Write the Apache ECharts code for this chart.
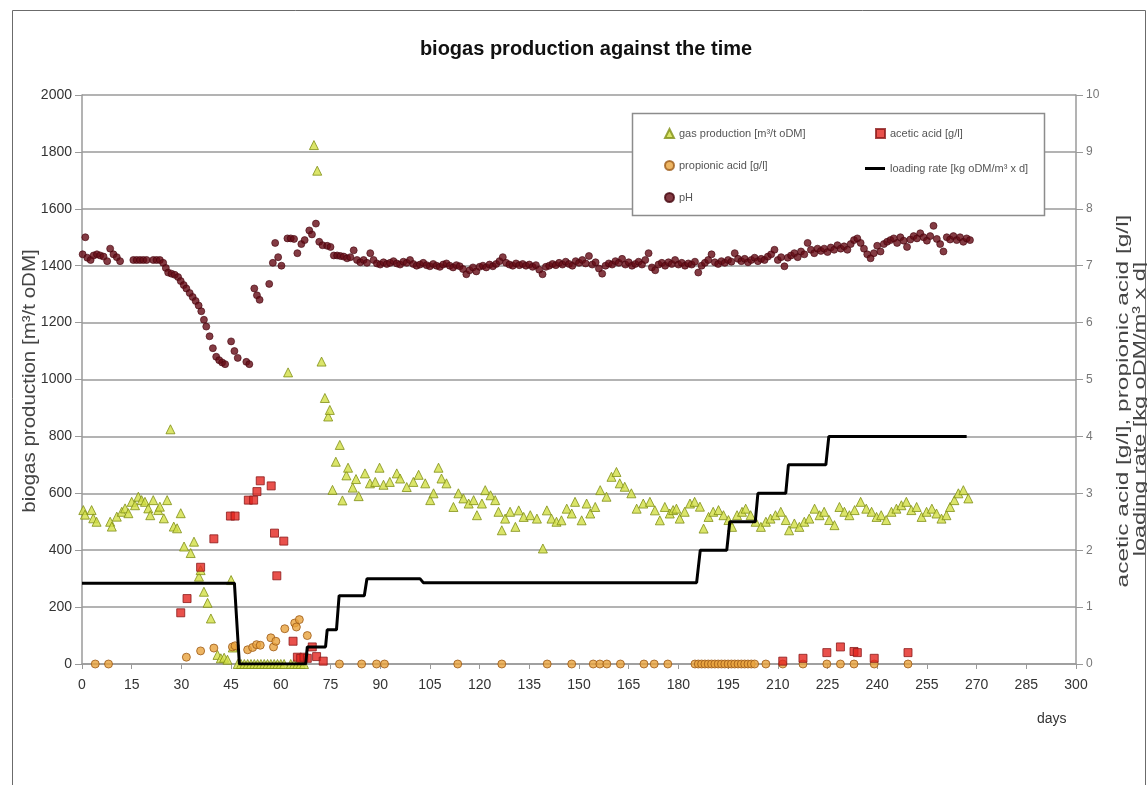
<!DOCTYPE html>
<html>
<head>
<meta charset="utf-8">
<title>biogas production against the time</title>
<script src="https://cdn.jsdelivr.net/npm/echarts@6/dist/echarts.min.js"></script>
<style>
  html, body { margin: 0; padding: 0; background: #fff; }
  #chart { width: 1147px; height: 785px; }
</style>
</head>
<body>
<div id="chart"></div>
<script>
// Day ticks and axis ranges
const dayTicks = { min: 0, max: 300, step: 15 };
const gasTicks = { min: 0, max: 2000, step: 200 };
const acidTicks = { min: 0, max: 10, step: 1 };

// Specific gas production [m³/t oDM] per sampling day
const gasData = [
  [0.4,541],[0.9,525],[2.9,541],[3.4,512],[4.4,500],[8.5,500],[9,483],[10.5,518],[12,535],[13,547],
  [14,530],[15,570],[16,558],[17,588],[18,576],[19,570],[20,547],[20.6,523],[21.5,576],[23,541],
  [23.5,553],[24.7,512],[25.7,576],[26.7,825],[27.7,483],[28.7,477],[29.8,530],[30.8,413],[32.8,390],[33.8,430],
  [35.3,307],[35.8,330],[36.8,254],[37.9,215],[38.9,160],[40.9,32],[41.9,20],[42.9,22],[43.9,15],[45,295],
  [45.5,58],[47,0],[48,0],[49,0],[50,0],[51,0],[52,0],[53,0],[54,0],[55,0],[56,0],[57,0],[58,0],[59,0],
  [60,0],[61,0],[62.2,1025],[63,0],[64,0],[65,0],[66,0],[67,0],
  [70,1824],[71,1734],[72.3,1063],[73.3,935],[74.3,870],[74.8,893],
  [75.6,612],[76.6,711],[77.8,770],[78.6,575],[79.8,663],[80.3,690],[81.7,620],[82.7,650],[83.5,590],[85.4,670],
  [86.9,635],[88.5,640],[89.8,690],[91,630],[92.9,640],[95,670],[96,652],[98,622],[100,640],[101.6,665],
  [103.6,635],[105.1,576],[106.1,600],[107.6,690],[108.5,652],[110,635],[112.1,552],[113.6,600],[115.1,582],[116.7,564],
  [118.2,576],[119.2,523],[120.7,564],[121.7,611],[123.3,593],[124.7,576],[125.7,535],[126.7,470],[127.7,511],[129.2,535],
  [130.8,482],[131.8,540],[133.3,517],[135.3,523],[137.3,511],[139.1,406],[140.3,540],[141.7,511],[143.2,500],[144.7,505],
  [146.3,546],[147.8,529],[148.8,570],[150.8,505],[152.3,564],[153.4,529],[154.9,552],[156.4,611],[158.3,588],[159.8,658],
  [161.3,675],[162.3,635],[163.8,623],[165.8,600],[167.4,546],[169.4,564],[171.4,570],[172.9,540],[174.4,505],[175.9,552],
  [177.4,529],[178.4,541],[179.4,546],[180.4,511],[181.9,535],[183.5,564],[184.9,570],[186.5,553],[187.6,476],[189.1,517],
  [190.5,535],[192.1,541],[193.6,523],[195.1,506],[196.2,482],[197.7,523],[199.2,535],[200.3,546],[201.8,523],[203.3,500],
  [204.9,482],[206.4,500],[207.8,511],[209.3,523],[210.9,535],[212.4,506],[213.4,470],[215,494],[216.5,482],[218,500],
  [219.5,511],[221.1,546],[222.6,523],[224,535],[225.5,506],[227.1,488],[228.6,552],[230.1,535],[231.6,523],[233.2,541],
  [235,570],[236.7,546],[238.3,535],[239.8,517],[241.2,523],[242.7,506],[244.3,535],[245.8,546],[247.3,558],[248.8,570],
  [250.3,541],[251.9,552],[253.4,517],[254.9,535],[256.5,546],[257.9,529],[259.4,511],[260.9,523],[262,552],[263.3,576],
  [264.5,600],[266,611],[267.5,582]
];

// Acetic acid [g/l]
const aceticData = [
  [29.8,0.9],[31.7,1.15],[35.8,1.7],[39.8,2.2],[44.8,2.6],[46.2,2.6],[50.2,2.88],[51.8,2.88],[52.8,3.03],[53.8,3.22],
  [57.1,3.13],[58.1,2.3],[58.8,1.55],[60.9,2.16],[63.7,0.4],[65,0.12],[66,0.1],[67,0.12],[68,0.1],[69.5,0.3],
  [70.8,0.13],[72.8,0.05],[211.5,0.05],[217.6,0.1],[224.8,0.2],[228.9,0.3],[233,0.22],[234,0.2],[239.1,0.1],[249.3,0.2]
];

// Propionic acid [g/l]
const propionicData = [
  [4,0],[8,0],[31.5,0.12],[35.8,0.23],[39.8,0.28],[45.4,0.3],[46.2,0.32],[50,0.25],[51.5,0.29],[52.7,0.34],
  [53.8,0.33],[57,0.46],[57.8,0.3],[58.5,0.4],[61.2,0.62],[64.2,0.72],[64.7,0.65],[65.6,0.78],[68,0.5],
  [77.7,0],[84.4,0],[88.9,0],[91.3,0],[113.4,0],[126.7,0],[140.4,0],[147.8,0],[154.3,0],[156.3,0],[158.4,0],
  [162.5,0],[169.6,0],[172.7,0],[176.8,0],
  [185,0],[186,0],[187,0],[188,0],[189,0],[190,0],[191,0],[192,0],[193,0],[194,0],[195,0],[196,0],[197,0],
  [198,0],[199,0],[200,0],[201,0],[202,0],[203,0],
  [206.4,0],[211.5,0],[217.6,0],[224.8,0],[228.9,0],[233,0],[239.1,0],[249.3,0]
];

// Organic loading rate [kg oDM/m³ x d]
const loadingData = [
  [0,1.42],[46,1.42],[47.5,0],[67.5,0],[68,0.3],[73.5,0.3],[74,0.6],[76.8,0.6],[77.6,1.2],[85.2,1.2],
  [86,1.5],[102,1.5],[103,1.43],[185.5,1.43],[186.6,2.0],[194.6,2.0],[195.5,2.5],[203.2,2.5],[204,3.0],[212.4,3.0],
  [213.2,3.5],[224.5,3.5],[225.4,4.0],[267,4.0]
];

// pH
const phData = [
  [0.2,7.2],[1,7.5],[1.6,7.14],[2.6,7.1],[3.5,7.18],[4.5,7.2],[5.5,7.18],[6.5,7.16],[7.6,7.08],[8.5,7.3],
  [9.5,7.2],[10.5,7.15],[11.5,7.08],[15.5,7.1],[16.5,7.1],[17.5,7.1],[18.5,7.1],[19.5,7.1],[21.5,7.1],[22.5,7.1],
  [23.5,7.1],[24.5,7.05],[25.3,6.96],[26,6.88],[27,6.86],[28,6.84],[29,6.8],[29.8,6.73],[30.7,6.66],[31.5,6.6],
  [32.5,6.52],[33.4,6.45],[34.3,6.38],[35.2,6.3],[36,6.2],[36.8,6.05],[37.5,5.93],[38.5,5.76],[39.5,5.55],[40.5,5.4],
  [41.4,5.34],[42.3,5.3],[43.2,5.27],[45,5.67],[46,5.5],[47,5.38],[49.6,5.31],[50.5,5.27],[52,6.6],[52.8,6.48],
  [53.6,6.4],[56.5,6.68],[57.6,7.05],[58.3,7.4],[59.2,7.15],[60.2,7.0],[62,7.48],[63,7.48],[64,7.47],[65,7.22],
  [66.2,7.38],[67.2,7.45],[68.6,7.62],[69.4,7.55],[70.6,7.74],[71.6,7.42],[72.6,7.36],
  [74,7.35],[75,7.33],[76,7.18],[77,7.18],[78,7.17],[79,7.16],[80,7.13],[81,7.15],[82,7.27],[83,7.1],
  [84,7.06],[85,7.1],[86,7.05],[87,7.22],[88,7.1],[89,7.04],[90,7.02],[91,7.06],[92,7.03],[93,7.05],
  [94,7.08],[95,7.04],[96,7.02],[97,7.07],[98,7.05],[99,7.1],[100,7.03],[101,7.0],[102,7.02],[103,7.05],
  [104,7.01],[105,6.99],[106,7.03],[107,7.0],[108,6.98],[109,7.02],[110,7.04],[111,7.0],[112,6.97],[113,7.01],
  [114,6.99],[115,6.94],[116,6.85],[117,6.92],[118,6.97],[119,6.9],[120,6.98],[121,7.0],[122,6.97],[123,7.02],
  [124,6.99],[125,7.03],[126,7.08],[127,7.15],[128,7.05],[129,7.02],[130,7.0],[131,7.04],[132,7.01],[133,7.03],
  [134,7.0],[135,7.02],[136,6.98],[137,7.01],[138,6.93],[139,6.85],[140,6.98],[141,7.0],[142,7.03],[143,7.01],
  [144,7.05],[145,7.02],[146,7.07],[147,7.03],[148,7.0],[149,7.08],[150,7.05],[151,7.1],[152,7.04],[153,7.17],
  [154,7.02],[155,7.06],[156,6.95],[157,6.86],[158,7.0],[159,7.04],[160,7.02],[161,7.08],[162,7.05],[163,7.12],
  [164,7.02],[165,7.06],[166,7.0],[167,7.03],[168,7.07],[169,7.02],[170,7.1],[171,7.22],[172,6.97],[173,6.92],
  [174,7.02],[175,7.05],[176,7.0],[177,7.06],[178,7.03],[179,7.1],[180,7.02],[181,7.05],[182,7.0],[183,7.04],
  [184,7.02],[185,7.07],[186,6.88],[187,7.0],[188,7.05],[189,7.1],[190,7.2],[191,7.06],[192,7.03],[193,7.08],
  [194,7.05],[195,7.1],[196,7.07],[197,7.22],[198,7.12],[199,7.08],[200,7.12],[201,7.06],[202,7.1],[203,7.14],
  [204,7.08],[205,7.12],[206,7.1],[207,7.16],[208,7.2],[209,7.28],[210,7.1],[211,7.15],[212,6.99],[213,7.14],
  [214,7.18],[215,7.22],[216,7.15],[217,7.25],[218,7.2],[219,7.4],[220,7.28],[221,7.22],[222,7.3],[223,7.26],
  [224,7.3],[225,7.24],[226,7.32],[227,7.28],[228,7.36],[229,7.3],[230,7.34],[231,7.28],[232,7.38],[233,7.45],
  [234,7.48],[235,7.4],[236,7.3],[237,7.2],[238,7.13],[239,7.22],[240,7.35],[241,7.25],[242,7.38],[243,7.42],
  [244,7.45],[245,7.48],[246,7.4],[247,7.5],[248,7.44],[249,7.33],[250,7.46],[251,7.52],[252,7.48],[253,7.57],
  [254,7.5],[255,7.44],[256,7.52],[257,7.7],[258,7.47],[259,7.38],[260,7.25],[261,7.5],[262,7.46],[263,7.52],
  [264,7.45],[265,7.5],[266,7.42],[267,7.48],[268,7.45]
];

const NAMES = {
  gas: 'gas production [m³/t oDM]',
  acetic: 'acetic acid [g/l]',
  propionic: 'propionic acid [g/l]',
  loading: 'loading rate [kg oDM/m³ x d]',
  ph: 'pH'
};

// Axis titles
const leftAxisTitle = 'biogas production [m³/t oDM]';
const rightAxisTitle = ['acetic acid [g/l], propionic acid [g/l]', 'loading rate [kg oDM/m³ x d]'];

const FONT = '"Liberation Sans Narrow", "Liberation Sans", Arial, sans-serif';
const NAME_FONT = '"Liberation Sans", Arial, sans-serif';

const chart = echarts.init(document.getElementById('chart'), null, { renderer: 'canvas' });

const legendText = { fontFamily: FONT, fontSize: 11, color: '#555' };

// Rotated axis title, stretched along its reading direction
function axisTitle(text, x, y, size, stretch) {
  return {
    type: 'text', silent: true, z: 60,
    x: x, y: y, rotation: Math.PI / 2, scaleX: stretch, scaleY: 1,
    style: {
      text: text, font: size + 'px ' + NAME_FONT, fill: '#444',
      align: 'center', verticalAlign: 'middle'
    }
  };
}

chart.setOption({
  backgroundColor: '#ffffff',
  animation: false,
  textStyle: { fontFamily: FONT },
  title: {
    text: 'biogas production against the time',
    left: 581,
    textAlign: 'center',
    top: 34,
    textStyle: { fontFamily: FONT, fontSize: 20, fontWeight: 'bold', color: '#111' }
  },
  graphic: [
    {
      type: 'rect', silent: true, z: -10,
      shape: { x: 12.5, y: 10.5, width: 1133, height: 800 },
      style: { fill: 'none', stroke: '#6b6b6b', lineWidth: 1 }
    },
    {
      type: 'rect', silent: true, z: 50,
      shape: { x: 632.5, y: 113.5, width: 412, height: 102 },
      style: { fill: '#ffffff', stroke: '#8c8c8c', lineWidth: 1.5 }
    },
    {
      type: 'text', silent: true, z: 60,
      left: 1037, top: 712,
      style: { text: 'days', font: '14px ' + FONT, fill: '#333' }
    },
    axisTitle(leftAxisTitle, 30, 381, 18, 1.14),
    axisTitle(rightAxisTitle[0], 1123, 401, 17, 1.44),
    axisTitle(rightAxisTitle[1], 1140, 409, 17, 1.38)
  ],
  legend: [
    {
      z: 60, left: 659, top: 123, orient: 'vertical', itemGap: 21,
      itemWidth: 9, itemHeight: 9, textStyle: legendText, selectedMode: false,
      data: [NAMES.gas, NAMES.propionic, NAMES.ph]
    },
    {
      z: 60, left: 870, top: 123, orient: 'vertical',
      itemWidth: 9, itemHeight: 9, textStyle: legendText, selectedMode: false,
      data: [NAMES.acetic]
    },
    {
      z: 60, left: 860, top: 158, orient: 'vertical',
      itemWidth: 20, itemHeight: 3, textStyle: legendText, selectedMode: false,
      data: [{ name: NAMES.loading, icon: 'rect', itemStyle: { color: '#000' } }]
    }
  ],
  grid: { left: 82, right: 71, top: 95, bottom: 121, containLabel: false, outerBoundsMode: 'none' },
  xAxis: {
    type: 'value',
    min: dayTicks.min, max: dayTicks.max, interval: dayTicks.step,
    axisLine: { onZero: false, lineStyle: { color: '#9a9a9a', width: 1.5 } },
    axisTick: { show: true, inside: false, length: 5, lineStyle: { color: '#9a9a9a' } },
    axisLabel: { margin: 14, fontFamily: FONT, fontSize: 14, color: '#333', formatter: v => String(v) },
    splitLine: { show: false }
  },
  yAxis: [
    {
      type: 'value',
      min: gasTicks.min, max: gasTicks.max, interval: gasTicks.step,
      axisLine: { show: true, lineStyle: { color: '#9a9a9a', width: 1.5 } },
      axisTick: { show: true, inside: false, length: 7, lineStyle: { color: '#9a9a9a' } },
      axisLabel: { margin: 10, fontFamily: FONT, fontSize: 14, color: '#333', formatter: v => String(v) },
      splitLine: { show: true, lineStyle: { color: '#9a9a9a', width: 1.5 } }
    },
    {
      type: 'value', position: 'right',
      min: acidTicks.min, max: acidTicks.max, interval: acidTicks.step,
      axisLine: { show: true, lineStyle: { color: '#9a9a9a', width: 1.5 } },
      axisTick: { show: true, inside: false, length: 7, lineStyle: { color: '#9a9a9a' } },
      axisLabel: { margin: 10, fontFamily: FONT, fontSize: 12, color: '#777', formatter: v => String(v) },
      splitLine: { show: false }
    }
  ],
  series: [
    {
      name: NAMES.gas, type: 'scatter', yAxisIndex: 0, data: gasData,
      symbol: 'triangle', symbolSize: 9,
      itemStyle: { color: '#d2df45', borderColor: '#7f8f15', borderWidth: 1 }
    },
    {
      name: NAMES.propionic, type: 'scatter', yAxisIndex: 1, data: propionicData,
      symbol: 'circle', symbolSize: 8,
      itemStyle: { color: '#e8a23c', borderColor: '#9c5a18', borderWidth: 1 }
    },
    {
      name: NAMES.acetic, type: 'scatter', yAxisIndex: 1, data: aceticData,
      symbol: 'rect', symbolSize: 8,
      itemStyle: { color: '#e3261f', borderColor: '#8b1a1a', borderWidth: 1 }
    },
    {
      name: NAMES.loading, type: 'line', yAxisIndex: 1, data: loadingData,
      showSymbol: false, symbol: 'none',
      lineStyle: { color: '#000', width: 3 },
      itemStyle: { color: '#000' }
    },
    {
      name: NAMES.ph, type: 'scatter', yAxisIndex: 1, data: phData,
      symbol: 'circle', symbolSize: 7,
      itemStyle: { color: '#650b15', borderColor: '#45050e', borderWidth: 0.8 }
    }
  ]
});
</script>
</body>
</html>
